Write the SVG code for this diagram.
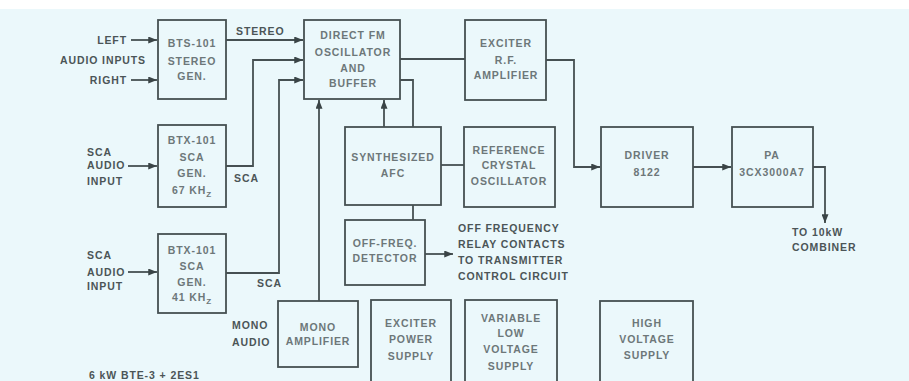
<svg xmlns="http://www.w3.org/2000/svg" width="909" height="381" viewBox="0 0 909 381">
<style>
.box{fill:none;stroke:#465052;stroke-width:1.8}
.ln{fill:none;stroke:#465052;stroke-width:1.8}
.bt{font-family:"Liberation Sans",Arial,sans-serif;font-weight:bold;font-size:10.5px;letter-spacing:0.9px;fill:#6d7779;text-anchor:middle}
.lb{font-family:"Liberation Sans",Arial,sans-serif;font-weight:bold;font-size:10.5px;letter-spacing:0.9px;fill:#4b5557}
.end{text-anchor:end}
</style>
<defs>
<marker id="ar" viewBox="0 0 10 8" refX="10" refY="4" markerWidth="9" markerHeight="7" markerUnits="userSpaceOnUse" orient="auto">
<path d="M0,0 L10,4 L0,8 z" fill="#3a4446"/>
</marker>
</defs>
<rect x="0" y="0" width="909" height="381" fill="#ffffff"/>
<rect x="0" y="9" width="909" height="372" fill="#ebf8fb"/>

<g id="connectors">
<path class="ln" d="M131,40 H157" marker-end="url(#ar)"/>
<path class="ln" d="M131,80 H157" marker-end="url(#ar)"/>
<path class="ln" d="M128,166 H157" marker-end="url(#ar)"/>
<path class="ln" d="M128,272 H157" marker-end="url(#ar)"/>
<path class="ln" d="M226,40 H303" marker-end="url(#ar)"/>
<path class="ln" d="M226,166 H253 V60 H303" marker-end="url(#ar)"/>
<path class="ln" d="M226,273 H279 V80 H303" marker-end="url(#ar)"/>
<path class="ln" d="M319,301 V100" marker-end="url(#ar)"/>
<path class="ln" d="M384,127 V100" marker-end="url(#ar)"/>
<path class="ln" d="M400,80 H413 V127"/>
<path class="ln" d="M400,59 H465"/>
<path class="ln" d="M546,60 H574 V167 H600" marker-end="url(#ar)"/>
<path class="ln" d="M693,167 H731" marker-end="url(#ar)"/>
<path class="ln" d="M813,167 H825 V223" marker-end="url(#ar)"/>
<path class="ln" d="M441,165 H464"/>
<path class="ln" d="M413,205 V220"/>
<path class="ln" d="M425,254 H453" marker-end="url(#ar)"/>
</g>

<g id="stereo-gen">
<rect class="box" x="158" y="20" width="68" height="79"/>
<text class="bt" x="192" y="47">BTS-101</text>
<text class="bt" x="192" y="65">STEREO</text>
<text class="bt" x="192" y="80">GEN.</text>
</g>
<g id="fm-osc">
<rect class="box" x="304" y="20" width="96" height="79"/>
<text class="bt" x="353" y="39">DIRECT FM</text>
<text class="bt" x="353" y="56">OSCILLATOR</text>
<text class="bt" x="353" y="72">AND</text>
<text class="bt" x="353" y="87">BUFFER</text>
</g>
<g id="exciter-rf">
<rect class="box" x="465" y="20" width="81" height="80"/>
<text class="bt" x="506" y="47">EXCITER</text>
<text class="bt" x="506" y="64">R.F.</text>
<text class="bt" x="506" y="79">AMPLIFIER</text>
</g>
<g id="sca67">
<rect class="box" x="158" y="125" width="68" height="82"/>
<text class="bt" x="192" y="144">BTX-101</text>
<text class="bt" x="192" y="161">SCA</text>
<text class="bt" x="192" y="177">GEN.</text>
<text class="bt" x="192" y="194">67 KH<tspan font-size="8" dy="3">Z</tspan></text>
</g>
<g id="afc">
<rect class="box" x="345" y="127" width="96" height="78"/>
<text class="bt" x="393" y="161">SYNTHESIZED</text>
<text class="bt" x="393" y="177">AFC</text>
</g>
<g id="ref-osc">
<rect class="box" x="464" y="127" width="91" height="80"/>
<text class="bt" x="509" y="154">REFERENCE</text>
<text class="bt" x="509" y="169">CRYSTAL</text>
<text class="bt" x="509" y="185">OSCILLATOR</text>
</g>
<g id="driver">
<rect class="box" x="601" y="127" width="92" height="80"/>
<text class="bt" x="647" y="159">DRIVER</text>
<text class="bt" x="647" y="176">8122</text>
</g>
<g id="pa">
<rect class="box" x="732" y="127" width="81" height="80"/>
<text class="bt" x="772" y="159">PA</text>
<text class="bt" x="772" y="176">3CX3000A7</text>
</g>
<g id="off-freq">
<rect class="box" x="345" y="220" width="80" height="65"/>
<text class="bt" x="385" y="247">OFF-FREQ.</text>
<text class="bt" x="385" y="262">DETECTOR</text>
</g>
<g id="sca41">
<rect class="box" x="158" y="234" width="68" height="79"/>
<text class="bt" x="192" y="254">BTX-101</text>
<text class="bt" x="192" y="270">SCA</text>
<text class="bt" x="192" y="286">GEN.</text>
<text class="bt" x="192" y="301">41 KH<tspan font-size="8" dy="3">Z</tspan></text>
</g>
<g id="mono-amp">
<rect class="box" x="278" y="301" width="80" height="66"/>
<text class="bt" x="318" y="331">MONO</text>
<text class="bt" x="318" y="345">AMPLIFIER</text>
</g>
<g id="exciter-ps">
<rect class="box" x="371" y="300" width="80" height="90"/>
<text class="bt" x="411" y="327">EXCITER</text>
<text class="bt" x="411" y="343">POWER</text>
<text class="bt" x="411" y="360">SUPPLY</text>
</g>
<g id="var-lv">
<rect class="box" x="465" y="300" width="92" height="90"/>
<text class="bt" x="511" y="322">VARIABLE</text>
<text class="bt" x="511" y="337">LOW</text>
<text class="bt" x="511" y="353">VOLTAGE</text>
<text class="bt" x="511" y="370">SUPPLY</text>
</g>
<g id="hv">
<rect class="box" x="600" y="301" width="93" height="90"/>
<text class="bt" x="647" y="327">HIGH</text>
<text class="bt" x="647" y="343">VOLTAGE</text>
<text class="bt" x="647" y="359">SUPPLY</text>
</g>

<g id="labels">
<text class="lb end" x="127" y="44">LEFT</text>
<text class="lb end" x="146" y="64">AUDIO INPUTS</text>
<text class="lb end" x="127" y="84">RIGHT</text>
<text class="lb" x="87" y="156">SCA</text>
<text class="lb" x="87" y="169">AUDIO</text>
<text class="lb" x="87" y="185">INPUT</text>
<text class="lb" x="87" y="259">SCA</text>
<text class="lb" x="87" y="276">AUDIO</text>
<text class="lb" x="87" y="290">INPUT</text>
<text class="lb" x="236" y="35">STEREO</text>
<text class="lb" x="234" y="182">SCA</text>
<text class="lb" x="257" y="287">SCA</text>
<text class="lb" x="232" y="329">MONO</text>
<text class="lb" x="232" y="346">AUDIO</text>
<text class="lb" x="458" y="232">OFF FREQUENCY</text>
<text class="lb" x="458" y="248">RELAY CONTACTS</text>
<text class="lb" x="458" y="264">TO TRANSMITTER</text>
<text class="lb" x="458" y="280">CONTROL CIRCUIT</text>
<text class="lb" x="792" y="236">TO 10kW</text>
<text class="lb" x="792" y="251">COMBINER</text>
<text class="lb" x="89" y="379" font-size="8" letter-spacing="0.6">6 kW BTE-3 + 2ES1</text>
</g>
</svg>
